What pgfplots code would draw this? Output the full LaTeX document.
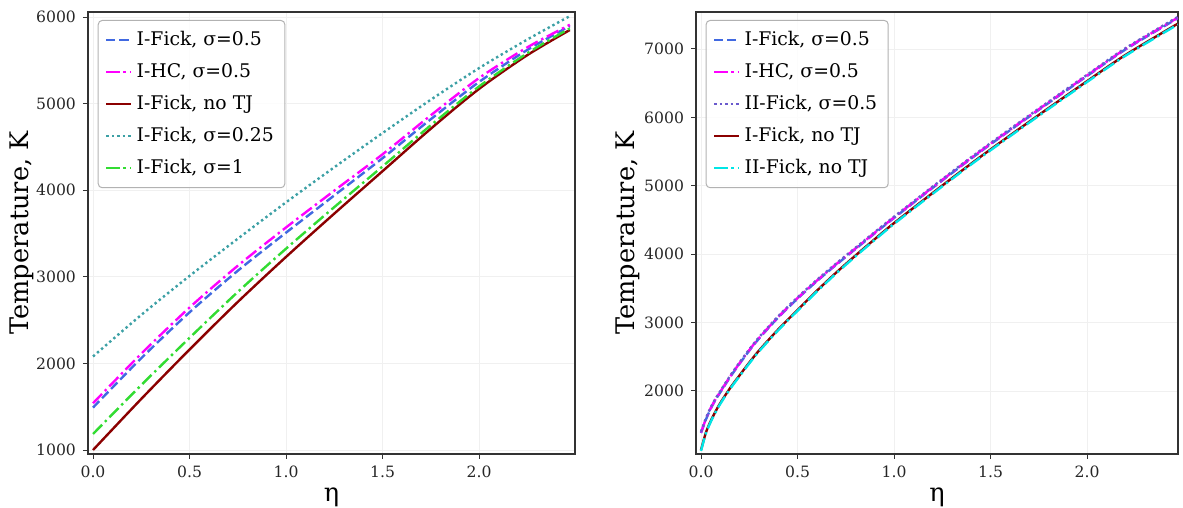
\documentclass[border=0pt]{standalone}
\usepackage{fontspec}
\setmainfont{DejaVu Serif}
\usepackage{pgfplots}
\usepackage{pgfplotstable}
\pgfplotsset{compat=1.18}
\definecolor{cblue}{RGB}{65,105,225}
\definecolor{cmag}{RGB}{255,0,255}
\definecolor{cred}{RGB}{139,0,0}
\definecolor{cteal}{RGB}{60,160,165}
\definecolor{cgreen}{RGB}{50,220,50}
\definecolor{cslate}{RGB}{106,90,205}
\definecolor{ccyan}{RGB}{0,230,230}

\pgfplotstableread{
eta red blue mag green dot
0    1000 1490 1540 1185 2080
0.25 1590 2060 2112 1750 2560
0.5  2160 2590 2645 2295 3010
0.75 2710 3070 3128 2825 3440
1.0  3230 3510 3570 3325 3860
1.25 3730 3940 3995 3805 4265
1.5  4220 4370 4415 4275 4660
1.75 4710 4820 4865 4750 5045
2.0  5170 5250 5295 5198 5410
2.25 5560 5620 5650 5582 5740
2.47 5850 5895 5910 5868 6010
}\lefttab

\pgfplotstableread{
eta upper hc two lower cyan
0     1386 1394 1404 1137 1125
0.025 1580 1588 1598 1390 1378
0.05  1740 1748 1758 1560 1548
0.075 1870 1878 1888 1700 1688
0.1   1981 1989 1999 1825 1813
0.15  2200 2208 2218 2040 2028
0.2   2400 2408 2418 2230 2218
0.25  2590 2598 2608 2415 2403
0.3   2765 2773 2783 2590 2578
0.4   3075 3083 3093 2900 2888
0.5   3350 3358 3368 3185 3173
0.6   3605 3613 3623 3465 3453
0.7   3845 3853 3863 3730 3718
0.8   4075 4083 4093 3980 3968
0.9   4305 4313 4323 4220 4208
1.0   4530 4538 4548 4455 4443
1.2   4970 4978 4988 4895 4883
1.4   5400 5408 5418 5325 5313
1.6   5810 5818 5828 5735 5723
1.8   6210 6218 6228 6135 6123
2.0   6605 6613 6623 6530 6518
2.2   6995 7003 7013 6915 6903
2.47  7450 7458 7468 7370 7358
}\righttab

\pgfplotsset{
  common/.style={
    scale only axis,
    height=221pt,
    tick align=outside,
    tick pos=left,
    major tick length=2.5pt,
    grid=major,
    grid style={line width=0.4pt, draw=gray!12},
    axis line style={draw=black!80, line width=0.6pt},
    tick style={draw=black!80, line width=0.5pt},
    xtick={0,0.5,1,1.5,2},
    xticklabel style={/pgf/number format/.cd, fixed, fixed zerofill, precision=1},
    yticklabel style={/pgf/number format/1000 sep={}},
    /pgf/number format/assume math mode=true,
    tick label style={font=\fontsize{7.8}{9}\selectfont, text=black!85},
    xlabel={η},
    ylabel={Temperature, K},
    every axis x label/.style={at={(axis description cs:0.5,-0.097)}, anchor=center, font=\fontsize{12.8}{15}\selectfont},
    legend style={font=\fontsize{9.4}{11}\selectfont, draw=gray!60, line width=0.5pt,
      rounded corners=2pt, fill=white, fill opacity=0.85, text opacity=1,
      row sep=3.4pt, inner xsep=3.5pt, inner ysep=3.5pt,
      at={(axis description cs:0.02,0.982)}, anchor=north west},
    legend cell align=left,
    legend image code/.code={\draw[##1] plot coordinates {(0cm,0cm) (0.44cm,0cm)};},
    every axis plot/.append style={line width=1.2pt},
  },
  pdash/.style={dash pattern=on 4.5pt off 2pt},
  pdashdot/.style={dash pattern=on 6.5pt off 2pt on 1.2pt off 2pt},
  pdot/.style={dash pattern=on 1.2pt off 1.5pt},
}

\begin{document}
\begin{tikzpicture}[x=1pt,y=1pt]
\path[use as bounding box] (0,0) rectangle (591.5,254);

\begin{axis}[common,
  at={(44pt,27pt)}, anchor=south west,
  width=243.5pt,
  xmin=-0.026, xmax=2.497, ymin=954, ymax=6058,
  ytick={1000,2000,3000,4000,5000,6000},
  every axis y label/.style={at={(axis description cs:-0.1355,0.5)}, rotate=90, anchor=center, font=\fontsize{12.8}{15}\selectfont},
]
\addplot[cblue, pdash, smooth] table[x=eta,y=blue] {\lefttab};
\addlegendentry{I-Fick, σ=0.5}
\addplot[cmag, pdashdot, smooth] table[x=eta,y=mag] {\lefttab};
\addlegendentry{I-HC, σ=0.5}
\addplot[cred, smooth] table[x=eta,y=red] {\lefttab};
\addlegendentry{I-Fick, no TJ}
\addplot[cteal, pdot, smooth] table[x=eta,y=dot] {\lefttab};
\addlegendentry{I-Fick, σ=0.25}
\addplot[cgreen, pdashdot, smooth] table[x=eta,y=green] {\lefttab};
\addlegendentry{I-Fick, σ=1}
\end{axis}

\begin{axis}[common,
  at={(348pt,27pt)}, anchor=south west,
  width=241pt,
  xmin=-0.026, xmax=2.471, ymin=1079, ymax=7541,
  ytick={2000,3000,4000,5000,6000,7000},
  every axis y label/.style={at={(axis description cs:-0.141,0.5)}, rotate=90, anchor=center, font=\fontsize{12.8}{15}\selectfont},
]
\addplot[cblue, pdash, smooth] table[x=eta,y=upper] {\righttab};
\addlegendentry{I-Fick, σ=0.5}
\addplot[cmag, pdashdot, smooth] table[x=eta,y=hc] {\righttab};
\addlegendentry{I-HC, σ=0.5}
\addplot[cslate, pdot, smooth] table[x=eta,y=two] {\righttab};
\addlegendentry{II-Fick, σ=0.5}
\addplot[cred, smooth] table[x=eta,y=lower] {\righttab};
\addlegendentry{I-Fick, no TJ}
\addplot[ccyan, pdashdot, smooth] table[x=eta,y=cyan] {\righttab};
\addlegendentry{II-Fick, no TJ}
\end{axis}
\end{tikzpicture}
\end{document}
